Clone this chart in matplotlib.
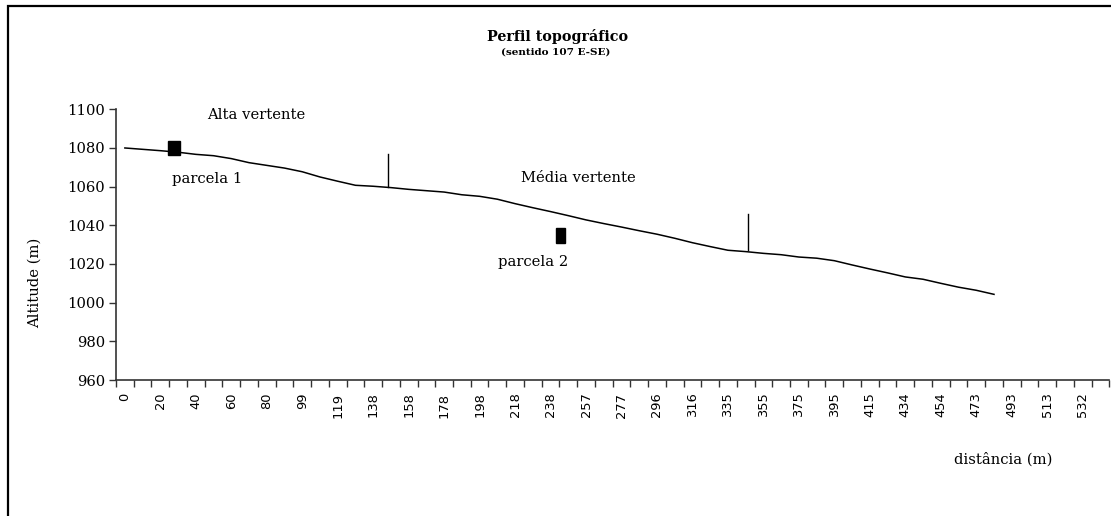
import matplotlib
matplotlib.use("Agg")
import matplotlib.pyplot as plt
from matplotlib.patches import Rectangle
import numpy as np

plt.rcParams['font.family'] = ['DejaVu Serif']

# ---- data ----
dist_labels = [0, 20, 40, 60, 80, 99, 119, 138, 158, 178, 198, 218, 238, 257,
               277, 296, 316, 335, 355, 375, 395, 415, 434, 454, 473, 493, 513, 532]
n_categories = 56
altitude = [1080.0, 1079.3, 1078.6, 1077.8, 1076.7, 1076.0, 1074.5, 1072.4, 1071.0, 1069.6,
            1067.7, 1065.0, 1062.8, 1060.7, 1060.2, 1059.5, 1058.6, 1057.9, 1057.2, 1055.8,
            1055.0, 1053.5, 1051.2, 1049.1, 1047.1, 1045.0, 1042.8, 1040.9, 1039.1, 1037.2,
            1035.4, 1033.3, 1031.0, 1029.0, 1027.1, 1026.4, 1025.5, 1024.8, 1023.6, 1023.0,
            1021.7, 1019.5, 1017.4, 1015.4, 1013.3, 1012.1, 1010.0, 1008.0, 1006.4, 1004.3]
y_ticks = [960, 980, 1000, 1020, 1040, 1060, 1080, 1100]

fig = plt.figure(figsize=(11.11, 5.16), dpi=100)
fig.patch.set_facecolor('white')

# outer chart border (cropped at right and bottom)
fig.add_artist(Rectangle((8/1111, -0.05), 1.1, 1 - 6/516 + 0.05,
                         transform=fig.transFigure, fill=False,
                         edgecolor='black', linewidth=1.6))

ax = fig.add_axes([116/1111, 1 - 380/516, (1109.3 - 116)/1111, (380 - 109.3)/516])
x = np.arange(len(altitude))
ax.plot(x, altitude, color='black', linewidth=1.1)

ax.set_xlim(-0.5, n_categories - 0.5)
ax.set_ylim(960, 1100)
ax.set_yticks(y_ticks)
ax.set_yticklabels([str(v) for v in y_ticks], fontsize=10.6)

# category ticks between categories; labels on every other category
ax.set_xticks(np.arange(0, 2 * len(dist_labels), 2))
ax.set_xticklabels([str(v) for v in dist_labels], rotation=90, fontsize=9.4,
                   family='DejaVu Sans')
ax.set_xticks(np.arange(-0.5, n_categories, 1.0), minor=True)
ax.tick_params(axis='x', which='major', length=0, pad=9)
ax.tick_params(axis='x', which='minor', length=5, width=1, color='#333333', direction='out')
ax.tick_params(axis='y', length=5, width=1, color='#333333', direction='out', pad=3)

for s in ['top', 'right']:
    ax.spines[s].set_visible(False)
for s in ['left', 'bottom']:
    ax.spines[s].set_color('#333333')
    ax.spines[s].set_linewidth(1.2)

ax.set_ylabel('Altitude (m)', fontsize=10.6)
ax.yaxis.set_label_coords(-0.0748, 0.36)

# annotations
ax.text(7.39, 1097.1, 'Alta vertente', ha='center', va='center', fontsize=10.6)
ax.text(4.66, 1064.1, 'parcela 1', ha='center', va='center', fontsize=10.6)
ax.text(25.58, 1064.6, 'Média vertente', ha='center', va='center', fontsize=10.6)
ax.text(23.0, 1020.9, 'parcela 2', ha='center', va='center', fontsize=10.6)
ax.add_patch(Rectangle((2.76 - 0.34, 1080 - 3.45), 0.68, 6.9, color='black'))
ax.add_patch(Rectangle((24.55 - 0.255, 1034.6 - 3.9), 0.51, 7.8, color='black'))
ax.plot([14.85, 14.85], [1059.6, 1076.7], color='black', linewidth=1.0)
ax.plot([35.14, 35.14], [1027.2, 1045.7], color='black', linewidth=1.0)

fig.text(1003/1111, 1 - 459/516, 'distância (m)', ha='center', va='center', fontsize=10.6)
fig.text(558/1111, 1 - 37/516, 'Perfil topográfico', ha='center', va='center',
         fontsize=10.3, fontweight='bold')
fig.text(556/1111, 1 - 52/516, '(sentido 107 E-SE)', ha='center', va='center',
         fontsize=7.5, fontweight='bold')

fig.savefig('out.png', dpi=100, facecolor='white')
